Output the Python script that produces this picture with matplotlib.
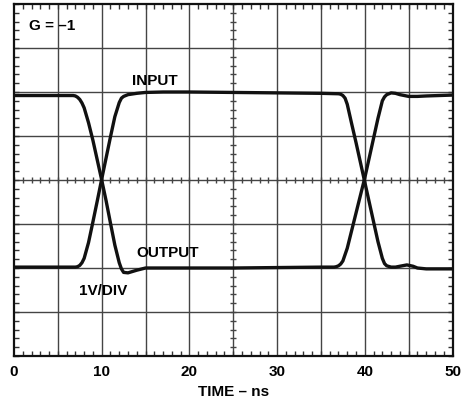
import numpy as np
import matplotlib
matplotlib.use("Agg")
import matplotlib.pyplot as plt
from matplotlib.ticker import MultipleLocator

plt.rcParams['font.family'] = ['Liberation Sans', 'DejaVu Sans']

# Data (time in ns, amplitude in divisions = volts at 1V/DIV)
input_t = [0, 5, 7.0, 7.25, 7.5, 7.75, 8.0, 8.5, 9.0, 9.5, 10.0, 10.5, 11.0, 11.5, 12.0,
           12.25, 12.5, 13.0, 14.0, 15.0, 17.0, 20, 25, 30, 35, 37.0, 37.25, 37.5, 37.75,
           38.0, 38.5, 39.0, 39.5, 40.0, 40.5, 41.0, 41.5, 42.0, 42.25, 42.5, 43.0, 43.5,
           44.0, 44.8, 45.5, 46.0, 47, 50]
input_v = [-1.98, -1.98, -1.98, -1.97, -1.94, -1.88, -1.78, -1.42, -0.95, -0.47, 0.02, 0.5,
           0.98, 1.44, 1.76, 1.86, 1.9, 1.94, 1.97, 1.99, 2.0, 2.0, 1.99, 1.98, 1.97, 1.96,
           1.95, 1.92, 1.86, 1.72, 1.28, 0.85, 0.4, -0.05, -0.5, -0.95, -1.4, -1.78, -1.9,
           -1.95, -1.98, -1.98, -1.96, -1.93, -1.96, -2.0, -2.02, -2.02]

output_t = [0, 5, 6.75, 7.0, 7.25, 7.5, 7.75, 8.0, 8.5, 9.0, 9.5, 10.0, 10.5, 11.0, 11.5,
            12.0, 12.25, 12.5, 13.0, 14.0, 15.0, 20, 25, 30, 35, 36.5, 36.75, 37.0, 37.25,
            37.5, 38.0, 38.5, 39.0, 39.5, 40.0, 40.5, 41.0, 41.5, 42.0, 42.25, 42.5, 43.0,
            43.5, 44.0, 45.0, 46.0, 47, 50]
output_v = [1.92, 1.92, 1.92, 1.91, 1.88, 1.83, 1.75, 1.64, 1.3, 0.9, 0.45, 0.0, -0.47,
            -0.98, -1.48, -1.88, -2.02, -2.1, -2.11, -2.05, -2.0, -2.0, -2.0, -1.99, -1.98,
            -1.98, -1.97, -1.95, -1.91, -1.84, -1.55, -1.15, -0.75, -0.35, 0.05, 0.5, 0.95,
            1.4, 1.8, 1.89, 1.94, 1.98, 1.97, 1.94, 1.9, 1.9, 1.91, 1.93]

x_grid = [0, 5, 10, 15, 20, 25, 30, 35, 40, 45, 50]
y_grid = [-4, -3, -2, -1, 0, 1, 2, 3, 4]
x_ticks = [0, 10, 20, 30, 40, 50]
x_labels = ['0', '10', '20', '30', '40', '50']

fig = plt.figure(figsize=(4.61, 4.02), dpi=100)
ax = fig.add_axes([14/461, 1-357/402, (452.5-14)/461, (357-5)/402])
ax.set_xlim(0, 50)
ax.set_ylim(-4, 4)

gc = '#444444'
for xg in x_grid[1:-1]:
    ax.axvline(xg, color=gc, lw=1.0, zorder=1)
for yg in y_grid[1:-1]:
    ax.axhline(yg, color=gc, lw=1.0, zorder=1)

# center-line minor ticks
xm = np.arange(0, 50.01, 1.0)
ym = np.arange(-4, 4.01, 0.2)
ax.plot(xm, np.zeros_like(xm), ls='none', marker='|', ms=5, mew=1.0, color=gc, zorder=1)
ax.plot(np.full_like(ym, 25.0), ym, ls='none', marker='_', ms=5, mew=1.0, color=gc, zorder=1)

ax.plot(input_t, input_v, color='#111111', lw=2.4, solid_joinstyle='round', zorder=3)
ax.plot(output_t, output_v, color='#111111', lw=2.4, solid_joinstyle='round', zorder=3)

ax.set_xticks(x_ticks)
ax.set_xticklabels(x_labels, fontsize=11, fontweight='bold')
ax.set_yticks([])
ax.xaxis.set_minor_locator(MultipleLocator(1))
ax.yaxis.set_minor_locator(MultipleLocator(0.2))
ax.tick_params(which='major', length=0, pad=6)
ax.tick_params(which='minor', direction='in', length=3.5, width=1.0, color='#333333',
               top=True, bottom=True, left=True, right=True)
for s in ax.spines.values():
    s.set_linewidth(1.6)
    s.set_color('#111111')

ax.set_xlabel('TIME – ns', fontsize=11, fontweight='bold', labelpad=4)

ax.text(1.7, 3.53, 'G = –1', fontsize=11, fontweight='bold', ha='left', va='center')
ax.text(16.1, 2.27, 'INPUT', fontsize=11, fontweight='bold', ha='center', va='center')
ax.text(17.5, -1.63, 'OUTPUT', fontsize=11, fontweight='bold', ha='center', va='center')
ax.text(10.2, -2.5, '1V/DIV', fontsize=11, fontweight='bold', ha='center', va='center')

fig.savefig('out.png', dpi=100)
